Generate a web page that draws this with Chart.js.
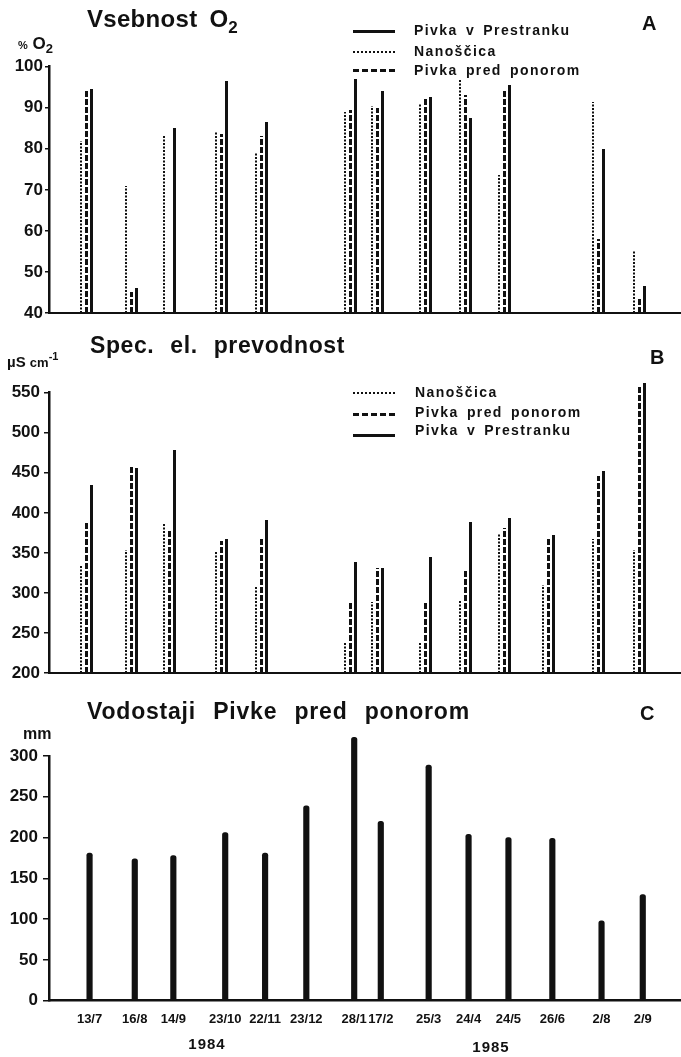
<!DOCTYPE html>
<html>
<head>
<meta charset="utf-8">
<script src="https://cdn.jsdelivr.net/npm/chart.js@4.4.1/dist/chart.umd.min.js"></script>
<style>
body { margin: 0; background: #fff; }
#page { position: relative; width: 681px; height: 1057px; overflow: hidden; font-family: 'Liberation Sans', Arial, sans-serif; font-weight: bold; color: #111; }
#page canvas { position: absolute; left: 0; top: 0; }
.t { position: absolute; white-space: nowrap; }
.title { font-size: 23px; line-height: 23px; letter-spacing: 0.6px; word-spacing: 9px; }
.tag { font-size: 20px; line-height: 20px; }
.leg { font-size: 14px; line-height: 14px; letter-spacing: 1.4px; word-spacing: 3px; }
.smp { position: absolute; left: 353px; width: 42px; height: 0; }
.yr { font-size: 15px; line-height: 15px; letter-spacing: 1px; width: 74px; text-align: center; }
</style>
</head>
<body>
<div id="page">
  <canvas id="chartA" width="681" height="1057"></canvas>
  <canvas id="chartB" width="681" height="1057"></canvas>
  <canvas id="chartC" width="681" height="1057"></canvas>

  <div class="t title" style="left:87px;top:7px;font-size:24px;line-height:24px;word-spacing:5px;letter-spacing:0.3px">Vsebnost O<span style="font-size:17px;position:relative;top:6px">2</span></div>
  <div class="t tag" style="left:642px;top:13px">A</div>
  <div class="t" style="left:18px;top:35px;font-size:17px;line-height:17px"><span style="font-size:11px">%</span> O<span style="font-size:13px;position:relative;top:4px">2</span></div>
  <div class="smp" style="top:30px;border-top:3px solid #111"></div>
  <div class="smp" style="top:51px;border-top:2px dotted #111"></div>
  <div class="smp" style="top:69px;border-top:3px dashed #111"></div>
  <div class="t leg" style="left:414px;top:23px">Pivka v Prestranku</div>
  <div class="t leg" style="left:414px;top:44px">Nanoščica</div>
  <div class="t leg" style="left:414px;top:63px">Pivka pred ponorom</div>

  <div class="t title" style="left:90px;top:334px">Spec. el. prevodnost</div>
  <div class="t tag" style="left:650px;top:347px">B</div>
  <div class="t" style="left:7px;top:354px;font-size:15px;line-height:15px">µS <span style="font-size:13px">cm</span><span style="font-size:11px;position:relative;top:-7px">-1</span></div>
  <div class="smp" style="top:392px;border-top:2px dotted #111"></div>
  <div class="smp" style="top:413px;border-top:3px dashed #111"></div>
  <div class="smp" style="top:434px;border-top:3px solid #111"></div>
  <div class="t leg" style="left:415px;top:385px">Nanoščica</div>
  <div class="t leg" style="left:415px;top:405px">Pivka pred ponorom</div>
  <div class="t leg" style="left:415px;top:423px">Pivka v Prestranku</div>

  <div class="t title" style="left:87px;top:700px;letter-spacing:0.8px;word-spacing:10px">Vodostaji Pivke pred ponorom</div>
  <div class="t tag" style="left:640px;top:703px">C</div>
  <div class="t" style="left:23px;top:726px;font-size:16px;line-height:16px">mm</div>
  <div class="t yr" style="left:170px;top:1036px">1984</div>
  <div class="t yr" style="left:454px;top:1039px">1985</div>
</div>
<script>
// sampling dates (13/7/1984 - 2/9/1985)
const sampleDates = ['1984-07-13', '1984-08-16', '1984-09-14', '1984-10-23', '1984-11-22', '1984-12-23',
  '1985-01-28', '1985-02-17', '1985-03-25', '1985-04-24', '1985-05-24', '1985-06-26', '1985-08-02', '1985-09-02'];
const dateLabels = ['13/7', '16/8', '14/9', '23/10', '22/11', '23/12', '28/1', '17/2', '25/3', '24/4', '24/5', '26/6', '2/8', '2/9'];

// A - % O2
const o2Nanoscica = [82, 71, 83, 84, 79, null, 89, 90.5, 91, 97, 73.5, null, 91.5, 55];
const o2PredPonorom = [94.5, 45, null, 83.5, 83, null, 89.5, 90, 92.5, 93, 94.5, null, 58, 44];
const o2Prestranek = [94.5, 46, 85, 96.5, 86.5, null, 97, 94, 92.5, 87.5, 95.5, null, 80, 46.5];

// B - specific conductivity, uS/cm
const condNanoscica = [335, 353, 387, 352, 308, null, 237, 289, 237, 291, 373, 310, 367, 354];
const condPredPonorom = [388, 458, 377, 365, 370, null, 287, 331, 287, 330, 381, 367, 446, 558];
const condPrestranek = [435, 456, 479, 367, 391, null, 339, 331, 345, 389, 394, 372, 452, 562];

// C - water level of Pivka pred ponorom, mm
const waterLevel = [181, 174, 178, 206, 181, 239, 323, 220, 289, 204, 200, 199, 98, 130];

const INK = '#111';
const FONT = "'Liberation Sans', Arial, sans-serif";

const t0 = Date.parse(sampleDates[0]);
const days = sampleDates.map(s => (Date.parse(s) - t0) / 864e5);
const pts = arr => arr.map((v, i) => ({ x: days[i], y: v }));

// bars drawn as dotted / dashed / solid strokes at the bar centre
const strokeBars = {
  id: 'strokeBars',
  afterDatasetsDraw(chart) {
    const ctx = chart.ctx;
    chart.data.datasets.forEach((ds, i) => {
      if (!ds.lineDash) return;
      const meta = chart.getDatasetMeta(i);
      const half = ds.strokeWidth % 2 ? 0.5 : 0;
      ctx.save();
      ctx.strokeStyle = INK;
      ctx.lineWidth = ds.strokeWidth;
      ctx.setLineDash(ds.lineDash);
      meta.data.forEach((bar, j) => {
        if (ds.data[j].y == null || isNaN(bar.y)) return;
        const x = Math.round(bar.x) + half;
        ctx.beginPath();
        ctx.moveTo(x, Math.min(bar.base, chart.chartArea.bottom));
        ctx.lineTo(x, Math.round(bar.y));
        ctx.stroke();
      });
      ctx.restore();
    });
  }
};

function strokeSet(label, values, dash, width) {
  return { label, data: pts(values), backgroundColor: 'rgba(0,0,0,0)', borderWidth: 0,
    barThickness: 5, lineDash: dash, strokeWidth: width };
}

function yAxis(min, max, step, tickLen, pad) {
  return {
    min, max,
    ticks: { stepSize: step, color: INK, padding: pad, font: { family: FONT, size: 17, weight: 'bold' } },
    grid: { drawOnChartArea: false, tickLength: tickLen, color: INK, lineWidth: 1.5 },
    border: { color: INK, width: 2.5 },
    afterFit: s => { s.width = 49; }
  };
}

function hiddenX(min, max) {
  return {
    type: 'linear', min, max, offset: false,
    ticks: { display: false },
    grid: { display: false, drawTicks: false, offset: false },
    border: { color: INK, width: 2 },
    afterFit: s => { s.height = 0; }
  };
}

const base = {
  responsive: false,
  animation: false,
  events: [],
  plugins: { legend: { display: false }, tooltip: { enabled: false } }
};

const xMinC = -30.5, xMaxC = 444;
const xMinAB = xMinC + 3, xMaxAB = xMaxC + 3;

new Chart(document.getElementById('chartA'), {
  type: 'bar',
  data: {
    datasets: [
      strokeSet('Nanoščica', o2Nanoscica, [2, 1.5], 2),
      strokeSet('Pivka pred ponorom', o2PredPonorom, [6, 2], 3),
      strokeSet('Pivka v Prestranku', o2Prestranek, [], 3)
    ]
  },
  options: {
    ...base,
    layout: { padding: { top: 66.7, bottom: 1057 - 313, left: 0, right: 1 } },
    scales: { x: hiddenX(xMinAB, xMaxAB), y: yAxis(40, 100, 10, 4, 2) }
  },
  plugins: [strokeBars]
});

new Chart(document.getElementById('chartB'), {
  type: 'bar',
  data: {
    datasets: [
      strokeSet('Nanoščica', condNanoscica, [2, 1.5], 2),
      strokeSet('Pivka pred ponorom', condPredPonorom, [6, 2], 3),
      strokeSet('Pivka v Prestranku', condPrestranek, [], 3)
    ]
  },
  options: {
    ...base,
    layout: { padding: { top: 392.7, bottom: 1057 - 673, left: 0, right: 1 } },
    scales: { x: hiddenX(xMinAB, xMaxAB), y: yAxis(200, 550, 50, 5, 4) }
  },
  plugins: [strokeBars]
});

new Chart(document.getElementById('chartC'), {
  type: 'bar',
  data: {
    datasets: [{
      label: 'Vodostaji Pivke pred ponorom',
      data: pts(waterLevel),
      backgroundColor: INK,
      barThickness: 5.5,
      borderRadius: 2.5,
      clip: false
    }]
  },
  options: {
    ...base,
    layout: { padding: { top: 756, bottom: 1057 - 1000.7 - 50, left: 0, right: 1 } },
    scales: {
      x: {
        type: 'linear', min: xMinC, max: xMaxC, offset: false,
        afterBuildTicks: s => { s.ticks = days.map(v => ({ value: v })); },
        ticks: {
          autoSkip: false, maxRotation: 0, minRotation: 0, padding: 11, color: INK,
          font: { family: FONT, size: 13, weight: 'bold' },
          callback: (v, i) => dateLabels[i]
        },
        grid: { display: false, drawTicks: false, offset: false },
        border: { color: INK, width: 2.5 },
        afterFit: s => { s.height = 50; }
      },
      y: yAxis(0, 300, 50, 6, 5)
    }
  }
});
</script>
</body>
</html>
